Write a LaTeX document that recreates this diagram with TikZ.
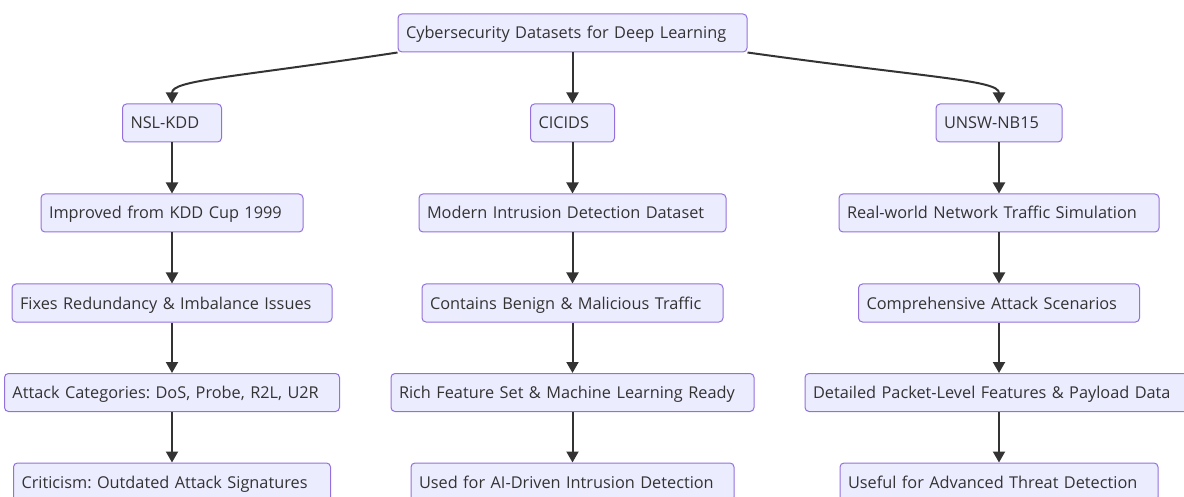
\documentclass[tikz,border=0pt]{standalone}
\usepackage{fontspec}
\setmainfont{Open Sans}
\usetikzlibrary{arrows.meta}
\definecolor{boxfill}{HTML}{ECECFF}
\definecolor{boxline}{HTML}{9370DB}
\definecolor{ink}{HTML}{333333}
\frenchspacing
\newcommand{\dsbox}[5]{\node[dsnode, text width=\dimexpr #4pt-16pt\relax] (#1) at ( #2 , #3 ) {#5};}

\begin{document}
\begin{tikzpicture}[x=1pt,y=-1pt,
    dsnode/.style={draw=boxline, fill=boxfill, line width=1pt, rounded corners=4pt,
        inner xsep=8pt, inner ysep=0pt, minimum height=38pt, align=left,
        text height=13pt, text depth=1pt,
        text=ink, font=\fontsize{16.3}{19}\selectfont},
    arr/.style={draw=ink, line width=2pt, -{Triangle[length=11pt,width=12pt]}}]
        \clip (0,0) rectangle (1184,497);
        \useasboundingbox (0,0) rectangle (1184,497);
        % top
        \dsbox{root}{572.5}{33}{349}{Cybersecurity Datasets for Deep Learning}
        % row1
        \dsbox{nsl}{172}{123}{99}{NSL-KDD}
        \dsbox{cicids}{572.5}{123}{84}{CICIDS}
        \dsbox{unsw}{999}{123}{126}{UNSW-NB15}
        % row2
        \dsbox{improved}{172}{213}{262}{Improved from KDD Cup 1999}
        \dsbox{modern}{572.5}{213}{307}{Modern Intrusion Detection Dataset}
        \dsbox{realworld}{999}{213}{320}{Real-world Network Traffic Simulation}
        % row3
        \dsbox{fixes}{172}{303}{320}{Fixes Redundancy \& Imbalance Issues}
        \dsbox{contains}{572.5}{303}{301}{Contains Benign \& Malicious Traffic}
        \dsbox{scenarios}{999}{303}{281}{Comprehensive Attack Scenarios}
        % row4
        \dsbox{categories}{172}{392.5}{335}{Attack Categories: DoS, Probe, R2L, U2R}
        \dsbox{richset}{572.5}{392.5}{363}{Rich Feature Set \& Machine Learning Ready}
        \dsbox{packet}{999}{392.5}{388}{Detailed Packet-Level Features \& Payload Data}
        % row5
        \dsbox{criticism}{172}{482}{317}{Criticism: Outdated Attack Signatures}
        \dsbox{aidriven}{572.5}{482}{323}{Used for AI-Driven Intrusion Detection}
        \dsbox{threat}{999}{482}{318}{Useful for Advanced Threat Detection}
        % links from top
        \draw[arr] (root.south west) .. controls (230,78) and (172,80) .. (nsl.north);
        \draw[arr] (root) -- (cicids);
        \draw[arr] (root.south east) .. controls (930,78) and (999,80) .. (unsw.north);
        % columns
        \draw[arr] (nsl) -- (improved);
        \draw[arr] (improved) -- (fixes);
        \draw[arr] (fixes) -- (categories);
        \draw[arr] (categories) -- (criticism);
        \draw[arr] (cicids) -- (modern);
        \draw[arr] (modern) -- (contains);
        \draw[arr] (contains) -- (richset);
        \draw[arr] (richset) -- (aidriven);
        \draw[arr] (unsw) -- (realworld);
        \draw[arr] (realworld) -- (scenarios);
        \draw[arr] (scenarios) -- (packet);
        \draw[arr] (packet) -- (threat);
\end{tikzpicture}
\end{document}
